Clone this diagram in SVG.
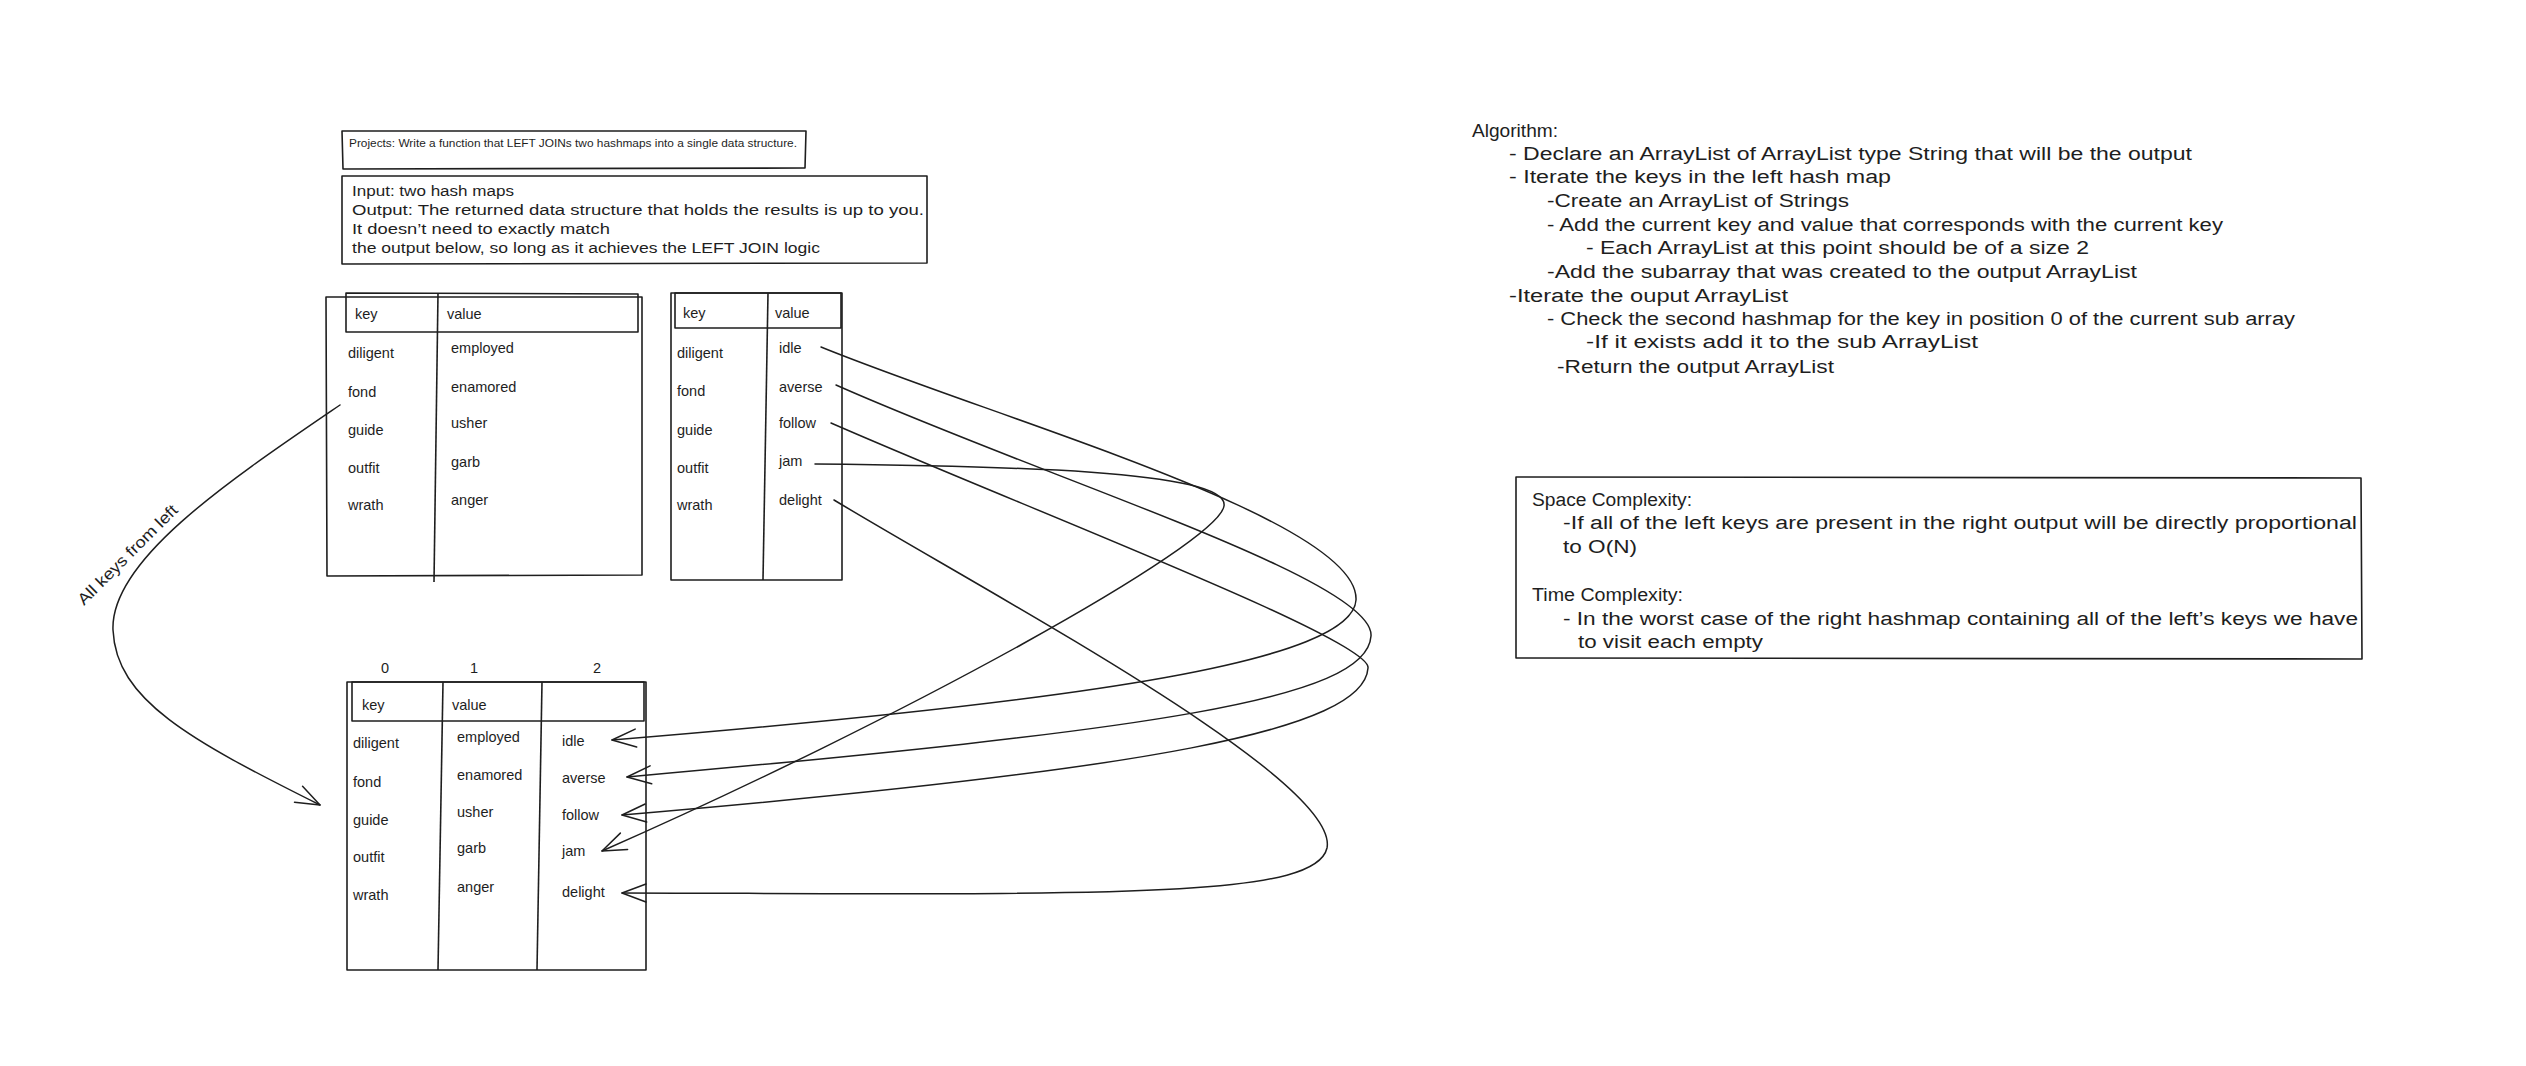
<svg xmlns="http://www.w3.org/2000/svg" width="2526" height="1066" viewBox="0 0 2526 1066">
<style>
.t{font-family:"Liberation Sans",Arial,sans-serif;fill:#1e1e1e}
.xs{font-size:10.5px}
.s{font-size:14.5px}
.m{font-size:15.5px}
.l{font-size:18px}
.box{fill:none;stroke:#1e1e1e;stroke-width:1.6;stroke-linejoin:round}
.con{fill:none;stroke:#1e1e1e;stroke-width:1.5;stroke-linecap:round}
</style>
<defs>
<marker id="arr" viewBox="-28 -14 32 28" markerWidth="32" markerHeight="28" refX="0" refY="0" orient="auto" markerUnits="userSpaceOnUse">
<path d="M-24,-9 L0,0 L-24,9" fill="none" stroke="#1e1e1e" stroke-width="1.5" stroke-linecap="round" stroke-linejoin="round"/>
</marker>
</defs>
<rect width="2526" height="1066" fill="#ffffff"/>

<g id="title-box">
<path class="box" d="M342 131 L806 131 L805 168 L343 169 Z"/>
<text class="t xs" x="349" y="147" textLength="448" lengthAdjust="spacingAndGlyphs">Projects: Write a function that LEFT JOINs two hashmaps into a single data structure.</text>
</g>

<g id="io-box">
<path class="box" d="M342 176 L927 176 L927 263 L342 264 Z"/>
<text class="t m" x="352" y="196" textLength="162" lengthAdjust="spacingAndGlyphs">Input: two hash maps</text>
<text class="t m" x="352" y="215" textLength="572" lengthAdjust="spacingAndGlyphs">Output: The returned data structure that holds the results is up to you.</text>
<text class="t m" x="352" y="234" textLength="258" lengthAdjust="spacingAndGlyphs">It doesn’t need to exactly match</text>
<text class="t m" x="352" y="253" textLength="468" lengthAdjust="spacingAndGlyphs">the output below, so long as it achieves the LEFT JOIN logic</text>
</g>

<g id="left-map">
<path class="box" d="M326 297 L642 297 L642 575 L327 576 Z"/>
<path class="box" d="M346 293 L638 294 L638 332 L346 332 Z"/>
<path class="box" d="M438 293 L434 582"/>
<text class="t s" x="355" y="319">key</text>
<text class="t s" x="447" y="319">value</text>
<text class="t s" x="348" y="358">diligent</text>
<text class="t s" x="348" y="397">fond</text>
<text class="t s" x="348" y="435">guide</text>
<text class="t s" x="348" y="473">outfit</text>
<text class="t s" x="348" y="510">wrath</text>
<text class="t s" x="451" y="353">employed</text>
<text class="t s" x="451" y="392">enamored</text>
<text class="t s" x="451" y="428">usher</text>
<text class="t s" x="451" y="467">garb</text>
<text class="t s" x="451" y="505">anger</text>
</g>

<g id="right-map">
<path class="box" d="M671 293 L842 293 L842 580 L671 580 Z"/>
<path class="box" d="M675 293 L841 293 L841 328 L675 328 Z"/>
<path class="box" d="M768 293 L763 580"/>
<text class="t s" x="683" y="318">key</text>
<text class="t s" x="775" y="318">value</text>
<text class="t s" x="677" y="358">diligent</text>
<text class="t s" x="677" y="396">fond</text>
<text class="t s" x="677" y="435">guide</text>
<text class="t s" x="677" y="473">outfit</text>
<text class="t s" x="677" y="510">wrath</text>
<text class="t s" x="779" y="353">idle</text>
<text class="t s" x="779" y="392">averse</text>
<text class="t s" x="779" y="428">follow</text>
<text class="t s" x="779" y="466">jam</text>
<text class="t s" x="779" y="505">delight</text>
</g>

<g id="output-table">
<text class="t s" x="385" y="673" text-anchor="middle">0</text>
<text class="t s" x="474" y="673" text-anchor="middle">1</text>
<text class="t s" x="597" y="673" text-anchor="middle">2</text>
<path class="box" d="M347 682 L646 682 L646 970 L347 970 Z"/>
<path class="box" d="M352 682 L644 682 L644 721 L352 721 Z"/>
<path class="box" d="M443 682 L438 970"/>
<path class="box" d="M542 682 L537 970"/>
<text class="t s" x="362" y="710">key</text>
<text class="t s" x="452" y="710">value</text>
<text class="t s" x="353" y="748">diligent</text>
<text class="t s" x="353" y="787">fond</text>
<text class="t s" x="353" y="825">guide</text>
<text class="t s" x="353" y="862">outfit</text>
<text class="t s" x="353" y="900">wrath</text>
<text class="t s" x="457" y="742">employed</text>
<text class="t s" x="457" y="780">enamored</text>
<text class="t s" x="457" y="817">usher</text>
<text class="t s" x="457" y="853">garb</text>
<text class="t s" x="457" y="892">anger</text>
<text class="t s" x="562" y="746">idle</text>
<text class="t s" x="562" y="783">averse</text>
<text class="t s" x="562" y="820">follow</text>
<text class="t s" x="562" y="856">jam</text>
<text class="t s" x="562" y="897">delight</text>
</g>

<g id="connectors">
<path class="con" marker-end="url(#arr)" d="M821 347 C1000 420 1360 520 1356 600 C1352 660 1100 700 612 740"/>
<path class="con" marker-end="url(#arr)" d="M836 385 C1050 480 1375 580 1371 636 C1367 700 1150 730 627 777"/>
<path class="con" marker-end="url(#arr)" d="M831 423 C1030 510 1372 640 1368 668 C1364 730 1150 770 622 815"/>
<path class="con" marker-end="url(#arr)" d="M815 464 C1000 466 1230 470 1224 506 C1218 545 900 720 602 851"/>
<path class="con" marker-end="url(#arr)" d="M834 500 C1000 600 1340 780 1327 848 C1315 900 1100 894 622 893"/>
<path class="con" marker-end="url(#arr)" d="M340 405 C230 480 110 560 113 630 C116 700 190 740 320 805"/>
</g>

<g id="label-all-keys">
<text class="t" font-size="16" x="84" y="606" transform="rotate(-45 84 606)" textLength="134" lengthAdjust="spacingAndGlyphs">All keys from left</text>
</g>

<g id="algorithm">
<text class="t l" x="1472" y="137" textLength="86" lengthAdjust="spacingAndGlyphs">Algorithm:</text>
<text class="t l" x="1509" y="160" textLength="683" lengthAdjust="spacingAndGlyphs">- Declare an ArrayList of ArrayList type String that will be the output</text>
<text class="t l" x="1509" y="183" textLength="382" lengthAdjust="spacingAndGlyphs">- Iterate the keys in the left hash map</text>
<text class="t l" x="1547" y="207" textLength="302" lengthAdjust="spacingAndGlyphs">-Create an ArrayList of Strings</text>
<text class="t l" x="1547" y="231" textLength="676" lengthAdjust="spacingAndGlyphs">- Add the current key and value that corresponds with the current key</text>
<text class="t l" x="1586" y="254" textLength="503" lengthAdjust="spacingAndGlyphs">- Each ArrayList at this point should be of a size 2</text>
<text class="t l" x="1547" y="278" textLength="590" lengthAdjust="spacingAndGlyphs">-Add the subarray that was created to the output ArrayList</text>
<text class="t l" x="1509" y="302" textLength="279" lengthAdjust="spacingAndGlyphs">-Iterate the ouput ArrayList</text>
<text class="t l" x="1547" y="325" textLength="748" lengthAdjust="spacingAndGlyphs">- Check the second hashmap for the key in position 0 of the current sub array</text>
<text class="t l" x="1586" y="348" textLength="392" lengthAdjust="spacingAndGlyphs">-If it exists add it to the sub ArrayList</text>
<text class="t l" x="1557" y="373" textLength="277" lengthAdjust="spacingAndGlyphs">-Return the output ArrayList</text>
</g>

<g id="complexity">
<path class="box" d="M1516 477 L2361 478 L2362 659 L1516 658 Z"/>
<text class="t l" x="1532" y="506" textLength="160" lengthAdjust="spacingAndGlyphs">Space Complexity:</text>
<text class="t l" x="1563" y="529" textLength="794" lengthAdjust="spacingAndGlyphs">-If all of the left keys are present in the right output will be directly proportional</text>
<text class="t l" x="1563" y="553" textLength="74" lengthAdjust="spacingAndGlyphs">to O(N)</text>
<text class="t l" x="1532" y="601" textLength="151" lengthAdjust="spacingAndGlyphs">Time Complexity:</text>
<text class="t l" x="1563" y="625" textLength="795" lengthAdjust="spacingAndGlyphs">- In the worst case of the right hashmap containing all of the left’s keys we have</text>
<text class="t l" x="1578" y="648" textLength="185" lengthAdjust="spacingAndGlyphs">to visit each empty</text>
</g>
</svg>
